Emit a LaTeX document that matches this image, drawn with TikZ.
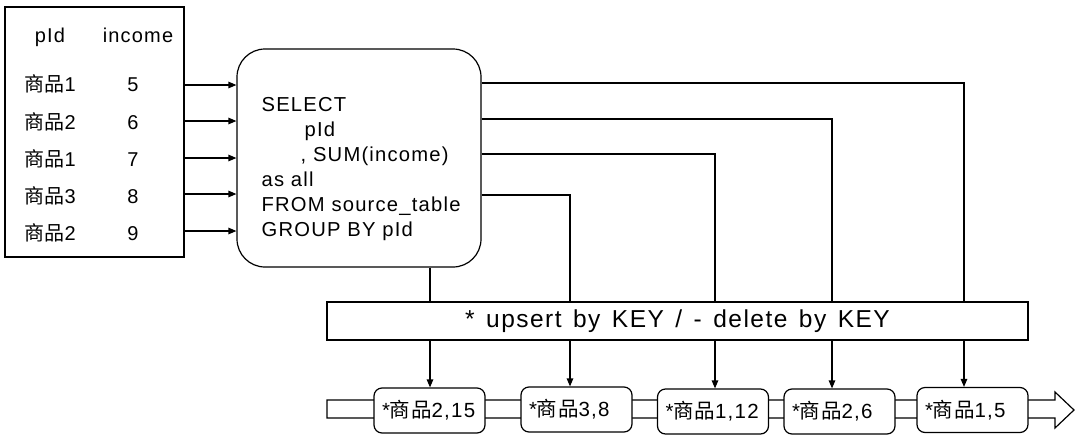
\documentclass[tikz,border=0pt]{standalone}
\usepackage{fontspec}
\setmainfont{Liberation Sans}[LetterSpace=6]
\newfontfamily\cjk{Noto Sans CJK SC}[LetterSpace=3]
\newcommand\goods{{\cjk 商品}}
\usetikzlibrary{arrows.meta}
\begin{document}
\begin{tikzpicture}[x=1pt,y=-1pt,line width=1.2pt,
  arr/.style={-{Triangle[length=8pt,width=6.5pt]}},
  tabtxt/.style={font=\fontsize{20}{24}\selectfont, inner sep=0pt, anchor=base},
  sqltxt/.style={font=\fontsize{20.2}{25}\selectfont, inner sep=0pt, align=left},
  item/.style={draw, rounded corners=8pt, fill=white, minimum width=111pt, minimum height=45pt,
    text width=95pt, inner xsep=8pt, inner ysep=0pt, align=left, font=\fontsize{20.5}{24}\selectfont}]
\useasboundingbox (0,0) rectangle (1080,440);
\fill[white] (0,0) rectangle (1080,440);

% source table
\node[draw, minimum width=179pt, minimum height=250pt, inner sep=0pt] (tab) at (94.5,132) {};
\node[tabtxt] (h1) at (50,42.7) {pId};
\node[tabtxt] (h2) at (138,42.7) {income};
\node[tabtxt] (k1) at (50,91.7) {\goods 1};
\node[tabtxt] (v1) at (133,91.7) {5};
\node[tabtxt] (k2) at (50,129) {\goods 2};
\node[tabtxt] (v2) at (133,129) {6};
\node[tabtxt] (k3) at (50,166.3) {\goods 1};
\node[tabtxt] (v3) at (133,166.3) {7};
\node[tabtxt] (k4) at (50,203.6) {\goods 3};
\node[tabtxt] (v4) at (133,203.6) {8};
\node[tabtxt] (k5) at (50,240.9) {\goods 2};
\node[tabtxt] (v5) at (133,240.9) {9};

% SQL box
\node[draw, rounded corners=28pt, minimum width=244pt, minimum height=218pt, inner sep=0pt] (sql) at (359,158) {};
\node[sqltxt, anchor=north west] (code) at (261,96.5)
  {SELECT\\\hspace*{43pt}pId\\\hspace*{39pt}, SUM(income)\\as all\\FROM source\_table\\GROUP BY pId};

\foreach \y in {85,121,158,194,231}
  \draw[arr] (tab.east |- 0,\y) -- (sql.west |- 0,\y);

% upsert bar
\node[draw, minimum width=701pt, minimum height=38pt, inner sep=0pt,
  font=\fontsize{24.5}{29}\selectfont] (bar) at (677.5,321)
  {\spaceskip=11.5pt * upsert by KEY / - delete by KEY};

\draw (sql.east |- 0,83) -| (bar.north -| 964,0);
\draw (sql.east |- 0,119) -| (bar.north -| 832,0);
\draw (sql.east |- 0,154) -| (bar.north -| 715,0);
\draw (sql.east |- 0,195) -| (bar.north -| 570,0);
\draw (sql.south -| 430,0) -- (bar.north -| 430,0);

% output stream band
\draw[fill=white] (327,400) -- (1055,400) -- (1055,392) -- (1074,410) -- (1055,428)
  -- (1055,418) -- (327,418) -- cycle;

\node[item] (b1) at (429.5,410.5) {*\goods 2,15};
\node[item] (b2) at (576.5,409.5) {*\goods 3,8};
\node[item] (b3) at (713,411.5) {*\goods 1,12};
\node[item] (b4) at (839.5,411.5) {*\goods 2,6};
\node[item] (b5) at (972.5,410) {*\goods 1,5};

\draw[arr] (bar.south -| 430,0) -- (b1.north -| 430,0);
\draw[arr] (bar.south -| 570,0) -- (b2.north -| 570,0);
\draw[arr] (bar.south -| 715,0) -- (b3.north -| 715,0);
\draw[arr] (bar.south -| 832,0) -- (b4.north -| 832,0);
\draw[arr] (bar.south -| 964,0) -- (b5.north -| 964,0);
\end{tikzpicture}
\end{document}
